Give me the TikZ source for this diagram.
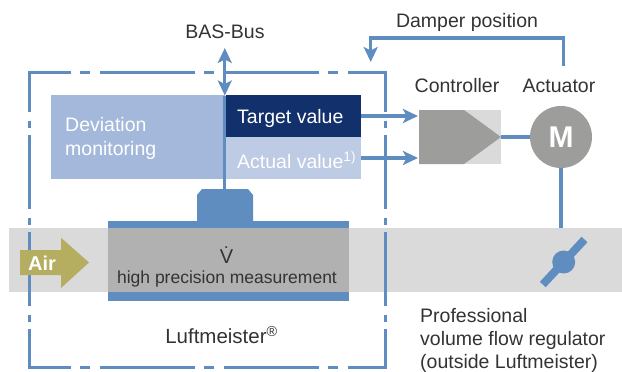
\documentclass[tikz,border=0pt]{standalone}
\usepackage{fontspec}
\setmainfont{Liberation Sans}
\usetikzlibrary{arrows.meta}
\definecolor{lineblue}{HTML}{5F8DC0}
\definecolor{navy}{HTML}{12306B}
\definecolor{devblue}{HTML}{A3B8DA}
\definecolor{actblue}{HTML}{BECBE4}
\definecolor{ductgray}{HTML}{DADADA}
\definecolor{measgray}{HTML}{B1B1B1}
\definecolor{darkgray}{HTML}{9D9D9C}
\definecolor{olive}{HTML}{B5AE60}
\definecolor{txt}{HTML}{333333}
\newcommand{\fs}[1]{\fontsize{#1}{24}\selectfont}
\tikzset{
  box/.style={inner sep=0pt,outer sep=0pt,minimum width=#1},
  label/.style={inner sep=0pt,text=txt,font=\fs{19.5}},
  inlabel/.style={inner sep=0pt,text=white,font=\fs{19.5},anchor=west},
  conn/.style={draw=lineblue,line width=3.3pt},
  arrowed/.style={conn,-{Stealth[length=15pt,width=14pt,inset=3.5pt]}},
  hborder/.style={draw=lineblue,line width=3pt,dash pattern=on 95pt off 9.5pt on 10pt off 9.5pt,dash phase=52.5pt},
  vborder/.style={draw=lineblue,line width=3pt,dash pattern=on 74pt off 8.5pt on 7pt off 7.5pt,dash phase=32.5pt},
}
\begin{document}
\begin{tikzpicture}[x=1pt,y=-1pt]
\useasboundingbox (0,0) rectangle (622,372);
% duct
\fill[ductgray] (9,228) rectangle (622,292);
% border
\coordinate (tl) at (28,72);
\coordinate (tr) at (386.8,72);
\coordinate (bl) at (28,367.7);
\coordinate (br) at (386.8,367.7);
\coordinate (tlv) at (29.5,70.5);
\coordinate (trv) at (385.3,70.5);
\coordinate (blv) at (29.5,369.2);
\coordinate (brv) at (385.3,369.2);
\draw[hborder] (tl) -- (tr);
\draw[hborder] (bl) -- (br);
\draw[vborder] (tlv) -- (blv);
\draw[vborder] (trv) -- (brv);
% boxes
\node[box=174pt,minimum height=84pt,fill=devblue] (dev) at (138,137) {};
\node[box=135pt,minimum height=42pt,fill=navy] (target) at (293.5,116) {};
\node[box=135pt,minimum height=42pt,fill=actblue] (actual) at (293.5,158) {};
\node[inlabel] at (237,118.5) {Target value};
\node[inlabel] at (237,160) {Actual value\textsuperscript{1)}};
\node[inlabel,align=left] at (65,138) {Deviation\\monitoring};
% measurement section
\node[box=241pt,minimum height=80pt,fill=lineblue] (meas) at (228.5,261) {};
\node[box=241pt,minimum height=64pt,fill=measgray] (measin) at (228.5,260) {};
\fill[lineblue] (197,221.5) -- (197,195) -- (202,189) -- (248,189) -- (253,195) -- (253,221.5) -- cycle;
\coordinate (sensor) at (224.8,189);
\node[inner sep=0pt,text=txt,font=\fs{20}] at (226.5,255) {V̇};
\node[inner sep=0pt,text=txt,font=\fs{17.5}] at (227,278.5) {high precision measurement};
% bus
\coordinate (busUp) at (224.8,48);
\coordinate (busDown) at (224.8,95.5);
\coordinate (busMid) at (224.8,70);
\draw[arrowed] (busMid) -- (busUp);
\draw[arrowed] (busMid) -- (busDown);
\draw[conn] (busDown) -- (sensor);
% controller
\node[box=82pt,minimum height=54pt,fill=ductgray] (ctrl) at (460,137) {};
\fill[darkgray] (ctrl.north west) -- (464,110) -- (ctrl.east) -- (464,164) -- (ctrl.south west) -- cycle;
\node[circle,inner sep=0pt,minimum size=62pt,fill=darkgray,text=white,font=\bfseries\fs{30}] (motor) at (561,137) {M};
\coordinate (damper) at (563.7,262);
\draw[arrowed,shorten >=1pt] (target.east) -- (target.east -| ctrl.west);
\draw[arrowed,shorten >=1pt] (actual.east) -- (actual.east -| ctrl.west);
\draw[conn] (ctrl.east) -- (motor.west);
\coordinate (ductTop) at (561,228);
\draw[conn] (motor.south) -- (ductTop);
% damper
\coordinate (bladeA) at (542.8,284.5);
\coordinate (bladeB) at (584.5,239.5);
\draw[lineblue,line width=8pt] (bladeA) -- (bladeB);
\fill[lineblue] (damper) circle (11.5);
% damper position
\coordinate (dpStart) at (563.7,66);
\coordinate (dpEnd) at (370.7,62);
\draw[arrowed] (dpStart) |- (370.7,38) -- (dpEnd);
% air
\fill[olive] (20,250) -- (61,250) -- (61,237.7) -- (89,262.5) -- (61,288) -- (61,275) -- (20,275) -- cycle;
\node[inner sep=0pt,text=white,font=\bfseries\fs{20}] at (42,263) {Air};
% labels
\node[label] at (225,32) {BAS-Bus};
\node[label] at (467,22) {Damper position};
\node[label] at (457,86) {Controller};
\node[label] at (559,86) {Actuator};
\node[label,font=\fs{20.5}] at (221.5,335) {Luftmeister\textsuperscript{®}};
\node[label,anchor=west,align=left,font=\fontsize{19.5}{23}\selectfont] at (420,340) {Professional\\volume flow regulator\\(outside Luftmeister)};
\end{tikzpicture}
\end{document}
